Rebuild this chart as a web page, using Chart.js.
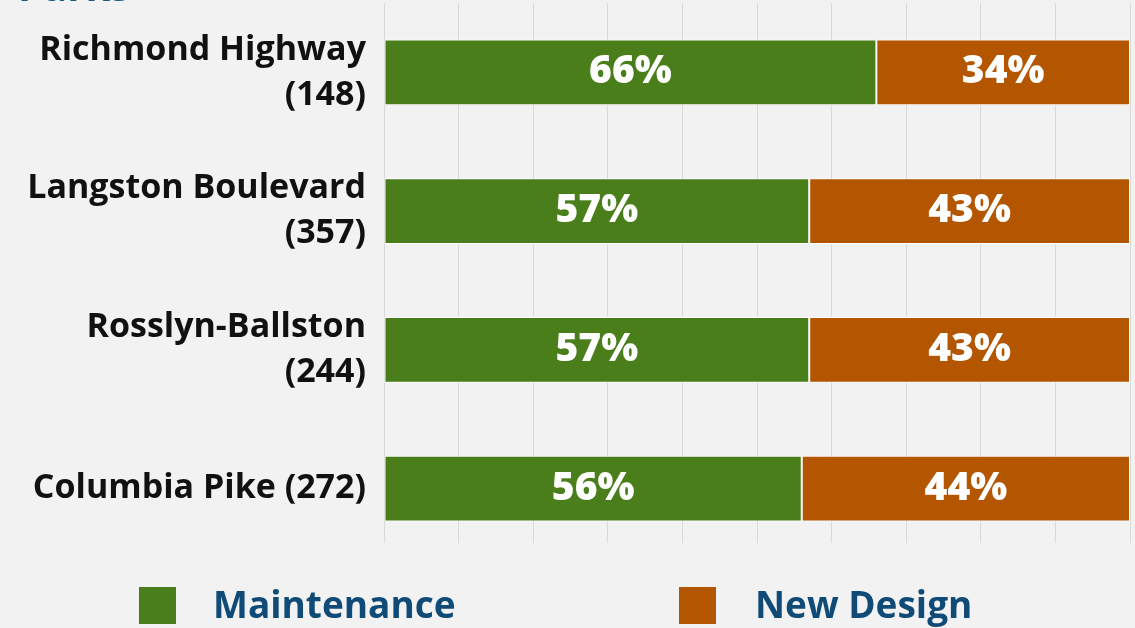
<!DOCTYPE html>
<html>
<head>
<meta charset="utf-8">
<script src="https://cdn.jsdelivr.net/npm/chart.js@4"></script>
<style>
  html, body { margin: 0; padding: 0; background: #f2f2f2; }
  #wrap { position: relative; width: 1135px; height: 628px; overflow: hidden; }
  #title { position: absolute; left: 18px; top: -42px; font: 700 40px "Open Sans", sans-serif; color: #1c5a86; }
</style>
</head>
<body>
<div id="wrap">
  <canvas id="c" width="1135" height="628"></canvas>
  <div id="title">Parks</div>
</div>
<script>
const categories = [
  ["Richmond Highway", "(148)"],
  ["Langston Boulevard", "(357)"],
  ["Rosslyn-Ballston", "(244)"],
  "Columbia Pike (272)"
];
const seriesNames = ["Maintenance", "New Design"];
const maintenance = [66, 57, 57, 56];
const newDesign = [34, 43, 43, 44];
const xTicks = [0, 10, 20, 30, 40, 50, 60, 70, 80, 90, 100];

const GREEN = '#4a7e1b';
const ORANGE = '#b45500';
const BG = '#f2f2f2';
const FONT = '"Open Sans", sans-serif';

const labelPlugin = {
  id: 'segLabels',
  afterDatasetsDraw(chart) {
    const ctx = chart.ctx;
    ctx.save();
    ctx.fillStyle = '#ffffff';
    ctx.font = '800 39px ' + FONT;
    ctx.textAlign = 'center';
    ctx.textBaseline = 'middle';
    chart.data.datasets.forEach((ds, di) => {
      chart.getDatasetMeta(di).data.forEach((bar, i) => {
        const cx = (bar.x + bar.base) / 2;
        ctx.fillText(ds.data[i] + '%', cx, bar.y);
      });
    });
    ctx.restore();
  }
};

const gridTrim = {
  id: 'gridTrim',
  beforeDatasetsDraw(chart) {
    const a = chart.chartArea;
    const ctx = chart.ctx;
    ctx.save();
    ctx.fillStyle = BG;
    ctx.fillRect(a.left - 2, 543, a.right - a.left + 4, a.bottom - 543 + 2);
    ctx.restore();
  }
};

const legendPlugin = {
  id: 'customLegend',
  afterDraw(chart) {
    const ctx = chart.ctx;
    const items = [
      { text: seriesNames[0], color: GREEN, box: 139, tx: 213 },
      { text: seriesNames[1], color: ORANGE, box: 679, tx: 755 }
    ];
    ctx.save();
    ctx.font = '700 37px ' + FONT;
    ctx.textBaseline = 'middle';
    ctx.textAlign = 'left';
    items.forEach(it => {
      ctx.fillStyle = it.color;
      ctx.fillRect(it.box, 587, 37, 37);
      ctx.fillStyle = '#0f4b76';
      ctx.fillText(it.text, it.tx, 607);
    });
    ctx.restore();
  }
};

const bgPlugin = {
  id: 'bg',
  beforeDraw(chart) {
    const ctx = chart.ctx;
    ctx.save();
    ctx.fillStyle = BG;
    ctx.fillRect(0, 0, chart.width, chart.height);
    ctx.restore();
  }
};

new Chart(document.getElementById('c'), {
  type: 'bar',
  data: {
    labels: categories,
    datasets: [
      { label: seriesNames[0], data: maintenance, backgroundColor: GREEN, borderColor: '#ffffff', borderWidth: 1, borderSkipped: false },
      { label: seriesNames[1], data: newDesign, backgroundColor: ORANGE, borderColor: '#ffffff', borderWidth: 1, borderSkipped: false }
    ]
  },
  options: {
    indexAxis: 'y',
    responsive: false,
    animation: false,
    layout: { padding: { left: 0, right: 5, top: 3, bottom: 70 } },
    plugins: { legend: { display: false }, tooltip: { enabled: false } },
    datasets: { bar: { categoryPercentage: 1, barPercentage: 0.475 } },
    scales: {
      x: {
        stacked: true, min: 0, max: 100,
        afterBuildTicks(scale) { scale.ticks = xTicks.map(v => ({ value: v })); },
        afterFit(scale) { scale.paddingLeft = 0; scale.paddingRight = 0; },
        ticks: { display: false },
        grid: { color: '#d9d9d9', lineWidth: 1, drawTicks: false },
        border: { display: false }
      },
      y: {
        stacked: true,
        afterFit(scale) { scale.width = 384; scale.paddingTop = 0; scale.paddingBottom = 0; },
        grid: { display: false, drawTicks: false },
        border: { display: false },
        ticks: { color: '#111111', padding: 18, font: { family: FONT, size: 34, weight: '700', lineHeight: 1.32 } }
      }
    }
  },
  plugins: [bgPlugin, gridTrim, labelPlugin, legendPlugin]
});
</script>
</body>
</html>
